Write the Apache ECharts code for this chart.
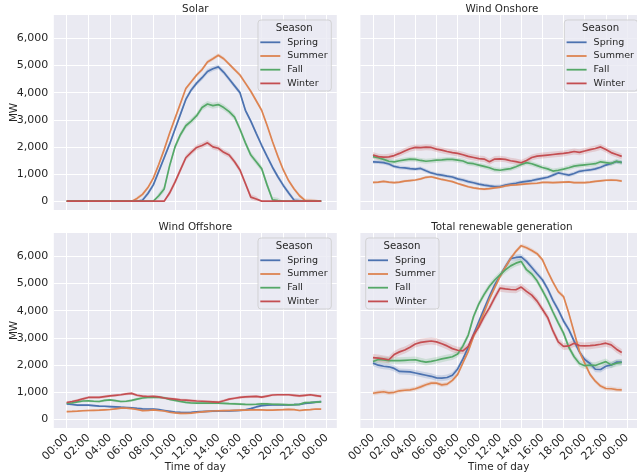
<!DOCTYPE html>
<html>
<head>
<meta charset="utf-8">
<script src="https://cdn.jsdelivr.net/npm/echarts@6/dist/echarts.min.js"></script>
<style>
  html, body { margin: 0; padding: 0; background: #ffffff; }
  #chart { width: 637px; height: 476px; }
</style>
</head>
<body>
<div id="chart"></div>
<script>
// Average renewable generation by time of day and season (MW)
const seasons = ['Spring', 'Summer', 'Fall', 'Winter'];

const timeOfDay = [
  '00:00','00:30','01:00','01:30','02:00','02:30','03:00','03:30',
  '04:00','04:30','05:00','05:30','06:00','06:30','07:00','07:30',
  '08:00','08:30','09:00','09:30','10:00','10:30','11:00','11:30',
  '12:00','12:30','13:00','13:30','14:00','14:30','15:00','15:30',
  '16:00','16:30','17:00','17:30','18:00','18:30','19:00','19:30',
  '20:00','20:30','21:00','21:30','22:00','22:30','23:00','23:30'
];

const xTickHours  = [0, 2, 4, 6, 8, 10, 12, 14, 16, 18, 20, 22, 24];
const xTickLabels = ['00:00','02:00','04:00','06:00','08:00','10:00','12:00',
                     '14:00','16:00','18:00','20:00','22:00','00:00'];
const yTicks = [0, 1000, 2000, 3000, 4000, 5000, 6000];

// Solar
const solarSpring = [0,0,0,0,0,0,0,0,0,0,0,0,0,0,30,280,600,1100,1600,2100,2650,3200,3750,4100,4350,4550,4780,4880,4950,4750,4500,4250,4000,3350,2950,2500,2060,1650,1250,900,580,300,30,10,0,0,0,0];
const solarSummer = [0,0,0,0,0,0,0,0,0,0,0,0,0,100,250,500,850,1350,1900,2500,3050,3600,4150,4400,4650,4850,5130,5250,5380,5250,5050,4850,4650,4350,4050,3700,3350,2800,2200,1650,1150,750,450,200,30,20,10,0];
const solarFall   = [0,0,0,0,0,0,0,0,0,0,0,0,0,0,0,0,0,200,450,1300,2000,2450,2780,2950,3150,3450,3580,3520,3560,3450,3300,3100,2650,2150,1700,1450,1200,600,50,20,0,0,0,0,0,0,0,0];
const solarWinter = [0,0,0,0,0,0,0,0,0,0,0,0,0,0,0,0,0,0,0,300,700,1150,1600,1800,1980,2050,2150,2000,1950,1800,1700,1450,1150,650,150,80,0,0,0,0,0,0,0,0,0,0,0,0];

// Wind onshore
const onshoreSpring = [1450,1440,1420,1370,1280,1240,1230,1200,1180,1205,1120,1040,990,960,920,890,820,780,720,680,630,590,560,535,540,590,630,660,700,730,760,800,840,880,960,1040,1000,960,1020,1100,1130,1150,1190,1250,1330,1390,1460,1430];
const onshoreSummer = [690,700,730,700,680,700,740,760,780,820,880,900,850,800,760,720,650,590,530,490,460,440,460,490,520,560,590,600,620,640,650,660,690,690,680,690,700,710,680,680,680,700,730,750,770,780,770,740];
const onshoreFall   = [1640,1600,1540,1470,1450,1490,1520,1550,1540,1500,1470,1490,1510,1520,1540,1540,1510,1480,1400,1380,1330,1280,1230,1160,1140,1170,1200,1270,1350,1420,1380,1310,1240,1190,1110,1140,1180,1230,1290,1320,1340,1360,1380,1450,1420,1390,1470,1420];
const onshoreWinter = [1700,1640,1620,1635,1680,1760,1850,1930,1980,1970,1990,1980,1920,1880,1830,1790,1760,1710,1650,1610,1570,1550,1450,1550,1560,1540,1490,1460,1415,1500,1610,1660,1680,1700,1720,1740,1760,1790,1830,1800,1850,1900,1940,2000,1900,1790,1720,1650];

// Wind offshore
const offshoreSpring = [565,540,515,515,515,500,480,475,465,455,440,430,415,395,380,375,370,350,320,290,260,250,245,255,270,280,290,295,300,305,305,315,320,345,390,450,500,515,530,530,530,530,535,545,580,600,625,650];
const offshoreSummer = [280,285,295,310,320,325,330,345,355,380,405,405,390,355,315,320,345,320,300,255,230,210,215,220,245,270,290,300,310,315,320,325,330,335,340,345,340,330,335,345,350,360,350,320,340,350,375,370];
const offshoreFall   = [590,600,640,670,675,660,650,690,710,680,650,660,690,740,780,800,810,805,790,730,690,650,620,595,590,590,590,590,590,585,570,565,555,545,540,550,565,560,550,545,540,530,535,545,610,615,625,640];
const offshoreWinter = [614,650,690,750,800,800,800,830,860,880,900,930,950,880,850,835,840,820,780,760,740,710,700,685,670,660,650,640,625,680,740,770,800,820,830,840,810,850,890,900,900,900,880,860,880,900,870,840];

// Total renewable generation
const totalSpring = [2065,1990,1950,1930,1870,1760,1750,1740,1700,1660,1620,1580,1520,1510,1535,1620,1850,2220,2650,3120,3600,4070,4530,4950,5280,5620,5920,5960,5980,5815,5590,5360,5140,4800,4380,4030,3620,3300,2880,2480,2200,2050,1840,1830,1950,2000,2100,2100];
const totalSummer = [955,990,1010,970,990,1045,1065,1080,1120,1190,1270,1330,1330,1265,1290,1430,1650,2080,2500,3050,3480,3950,4430,4850,5260,5600,5920,6185,6395,6320,6220,6100,5880,5450,5050,4700,4520,3900,3200,2500,2065,1650,1400,1220,1130,1120,1090,1080];
const totalFall   = [2125,2200,2180,2160,2160,2160,2170,2180,2190,2140,2100,2130,2170,2220,2260,2300,2400,2700,3100,3785,4250,4600,4900,5130,5320,5500,5650,5750,5815,5510,5350,5100,4750,4380,3950,3550,3170,2650,2300,2050,1970,1990,1980,2050,2120,2000,2060,2090];
const totalWinter = [2270,2250,2220,2190,2380,2480,2550,2650,2770,2830,2860,2880,2850,2780,2700,2600,2540,2520,2680,3110,3400,3780,4100,4480,4830,4800,4780,4770,4870,4710,4570,4350,4050,3750,3250,2850,2680,2700,2800,2710,2700,2710,2730,2760,2800,2740,2580,2460];

// 95% confidence half-widths (MW), per season
const solarCI    = [90, 70, 110, 100];
const onshoreCI  = [70, 45, 90, 110];
const offshoreCI = [40, 35, 45, 50];
const totalCI    = [110, 80, 120, 130];

const panelTitles = ['Solar', 'Wind Onshore', 'Wind Offshore', 'Total renewable generation'];
const panelValues = [
  [solarSpring, solarSummer, solarFall, solarWinter],
  [onshoreSpring, onshoreSummer, onshoreFall, onshoreWinter],
  [offshoreSpring, offshoreSummer, offshoreFall, offshoreWinter],
  [totalSpring, totalSummer, totalFall, totalWinter]
];
const panelCI = [solarCI, onshoreCI, offshoreCI, totalCI];

// ---- styling / layout ----
const seasonColors = ['#4c72b0', '#dd8452', '#55a868', '#c44e52'];
const textColor = '#262626';
const plotBg = '#eaeaf2';
const FONT = 'DejaVu Sans';

const hours = timeOfDay.map(t => {
  const [h, m] = t.split(':').map(Number);
  return h + m / 60;
});

const PLOT_W = 283, PLOT_H = 195;
const grids = [
  { left: 53.8,  top: 15 },
  { left: 360.4, top: 15 },
  { left: 53.8,  top: 233 },
  { left: 360.4, top: 233 }
];
const legendBoxes = [
  { x: 258,   y: 20 },
  { x: 564.3, y: 20 },
  { x: 258,   y: 238 },
  { x: 365.7, y: 238 }
];
const LB_W = 73.3, LB_H = 71;

const chart = echarts.init(document.getElementById('chart'), null, { renderer: 'canvas' });

const xMin = -1.19, xMax = 24.94;
const yMin = -326, yMax = 6862;

const option = {
  animation: false,
  backgroundColor: '#ffffff',
  textStyle: { fontFamily: FONT },
  title: panelTitles.map((t, p) => ({
    text: t,
    left: grids[p].left + PLOT_W / 2,
    top: grids[p].top - 11,
    textAlign: 'center',
    padding: 0,
    textStyle: { fontFamily: FONT, fontSize: 10.4, fontWeight: 'normal', color: textColor }
  })),
  grid: grids.map(g => ({
    left: g.left, top: g.top, width: PLOT_W, height: PLOT_H,
    show: true, backgroundColor: plotBg, borderWidth: 0, containLabel: false
  })),
  xAxis: grids.map((g, p) => ({
    type: 'value',
    gridIndex: p,
    min: xMin, max: xMax,
    axisLine: { show: false },
    axisTick: { show: false, customValues: xTickHours },
    splitLine: { show: true, lineStyle: { color: '#ffffff', width: 1 } },
    axisLabel: {
      show: p >= 2,
      customValues: xTickHours,
      rotate: 45,
      margin: 8,
      fontFamily: FONT, fontSize: 11, color: textColor,
      formatter: v => xTickLabels[xTickHours.indexOf(v)]
    },
    name: p >= 2 ? 'Time of day' : '',
    nameLocation: 'middle',
    nameGap: 34,
    nameMoveOverlap: false,
    nameTextStyle: { fontFamily: FONT, fontSize: 10.4, color: textColor }
  })),
  yAxis: grids.map((g, p) => ({
    type: 'value',
    gridIndex: p,
    min: yMin, max: yMax,
    axisLine: { show: false },
    axisTick: { show: false, customValues: yTicks },
    splitLine: { show: true, lineStyle: { color: '#ffffff', width: 1 } },
    axisLabel: {
      show: p % 2 === 0,
      customValues: yTicks,
      margin: 5.5,
      fontFamily: FONT, fontSize: 11, color: textColor,
      formatter: v => v.toLocaleString('en-US')
    },
    name: p % 2 === 0 ? 'MW' : '',
    nameLocation: 'middle',
    nameRotate: 90,
    nameGap: 35,
    nameMoveOverlap: false,
    nameTextStyle: { fontFamily: FONT, fontSize: 10.4, color: textColor }
  })),
  legend: legendBoxes.map(b => ({
    data: seasons,
    orient: 'vertical',
    left: b.x + 2.3,
    top: b.y + 22.3 - 5.5,
    padding: 0,
    itemWidth: 20,
    itemHeight: 1.8,
    itemGap: 2.7,
    icon: 'rect',
    selectedMode: false,
    z: 20,
    textStyle: { fontFamily: FONT, fontSize: 9.5, lineHeight: 11, color: textColor, padding: [0, 0, 0, 2] }
  })),
  graphic: legendBoxes.flatMap(b => ([
    {
      type: 'rect', z: 15,
      shape: { x: b.x, y: b.y, width: LB_W, height: LB_H, r: 3 },
      style: { fill: 'rgba(234,234,242,0.8)', stroke: 'rgba(204,204,204,0.8)', lineWidth: 1 }
    },
    {
      type: 'text', z: 16,
      x: b.x + 36.3, y: b.y + 8,
      style: { text: 'Season', fill: textColor, font: '10.2px "DejaVu Sans"', align: 'center', verticalAlign: 'middle' }
    }
  ])),
  series: []
};

panelValues.forEach((vals, p) => {
  // confidence bands first, mean lines on top
  vals.forEach((v, s) => {
    const ci = panelCI[p][s];
    option.series.push({
      type: 'custom',
      name: seasons[s] + ' CI',
      xAxisIndex: p, yAxisIndex: p,
      silent: true,
      z: 2,
      data: [[hours[0], v[0]]],
      renderItem: (params, api) => {
        const upper = hours.map((h, i) => api.coord([h, v[i] + (v[i] > 0 ? ci : 0)]));
        const lower = hours.map((h, i) => api.coord([h, Math.max(0, v[i] - (v[i] > 0 ? ci : 0))])).reverse();
        return {
          type: 'polygon',
          shape: { points: upper.concat(lower) },
          style: { fill: seasonColors[s], opacity: 0.2 }
        };
      }
    });
  });
  vals.forEach((v, s) => {
    option.series.push({
      type: 'line',
      name: seasons[s],
      xAxisIndex: p, yAxisIndex: p,
      data: hours.map((h, i) => [h, v[i]]),
      showSymbol: false,
      symbol: 'none',
      z: 3 + s,
      itemStyle: { color: seasonColors[s] },
      lineStyle: { color: seasonColors[s], width: 1.7 }
    });
  });
});

chart.setOption(option);
</script>
</body>
</html>
